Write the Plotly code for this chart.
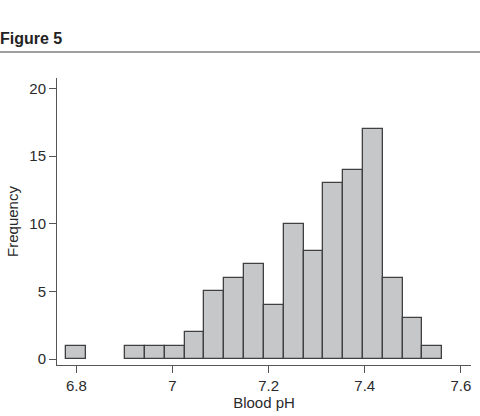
import plotly.graph_objects as go

# Histogram data (Stata-style bins)
bin_start = 6.778
bin_width = 0.04121
counts = [1, 0, 0, 1, 1, 1, 2, 5, 6, 7, 4, 10, 8, 13, 14, 17, 6, 3, 1]
x_ticks = [6.8, 7.0, 7.2, 7.4, 7.6]
x_tick_labels = ["6.8", "7", "7.2", "7.4", "7.6"]
y_ticks = [0, 5, 10, 15, 20]

centers = [bin_start + bin_width * (i + 0.5) for i in range(len(counts))]
bar_x = [c for c, n in zip(centers, counts) if n > 0]
bar_y = [n for n in counts if n > 0]

W, H = 480, 416
ml, mr, mt, mb = 57, 9, 78, 51

fig = go.Figure(go.Bar(
    x=bar_x, y=bar_y, width=[bin_width] * len(bar_x),
    marker=dict(color="#c6c7c9", line=dict(color="#404040", width=1.3)),
    hoverinfo="x+y",
))

FAM = "Liberation Sans, Arial, sans-serif"
tickfont = dict(family=FAM, size=15, color="#2a2a2a")
titlefont = dict(family=FAM, size=15, color="#2a2a2a")

fig.update_layout(
    width=W, height=H,
    margin=dict(l=ml, r=mr, t=mt, b=mb),
    paper_bgcolor="white", plot_bgcolor="white",
    font=dict(family=FAM, size=15, color="#2a2a2a"),
    showlegend=False,
    bargap=0,
    title=dict(text="<b>Figure 5</b>", x=0, xref="container", xanchor="left",
               y=1 - 38 / H, yref="container", yanchor="middle",
               font=dict(family=FAM, size=16, color="#222222")),
    xaxis=dict(range=[6.7596, 7.621], tickvals=x_ticks, ticktext=x_tick_labels,
               showgrid=False, zeroline=False, showline=True, linecolor="#555555", linewidth=1,
               ticks="outside", ticklen=7, tickcolor="#555555", tickwidth=1,
               ticklabelstandoff=0, tickfont=tickfont,
               title=dict(text="Blood pH", standoff=2, font=titlefont), fixedrange=True),
    yaxis=dict(range=[-0.44, 20.77], tickvals=y_ticks,
               showgrid=False, zeroline=False, showline=True, linecolor="#555555", linewidth=1,
               ticks="outside", ticklen=7, tickcolor="#555555", tickwidth=1,
               tickfont=tickfont,
               title=dict(text="Frequency", standoff=7, font=titlefont), fixedrange=True),
)

ph = H - mt - mb
line_y = (H - mb - 52) / ph
pw = W - ml - mr
fig.add_shape(type="line", xref="paper", yref="paper",
              x0=-ml / pw, x1=1 + mr / pw, y0=line_y, y1=line_y,
              line=dict(color="#808080", width=1.5))

fig.write_html("out.html")
